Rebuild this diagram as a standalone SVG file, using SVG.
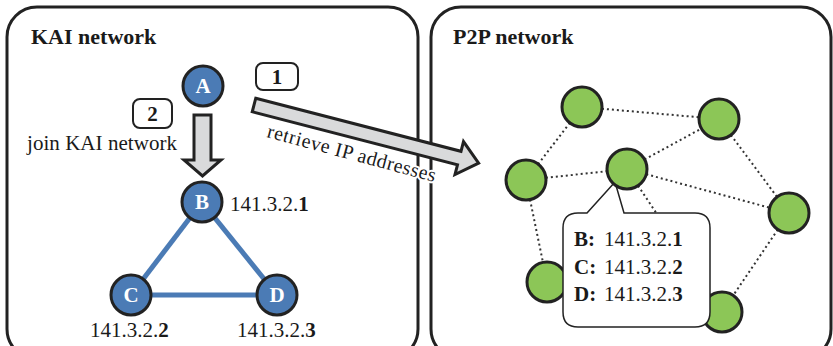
<svg xmlns="http://www.w3.org/2000/svg" width="833" height="346" viewBox="0 0 833 346" font-family="'Liberation Serif', 'Times New Roman', serif">
<style>
text{font-family:'Liberation Serif','Times New Roman',serif;fill:#1a1a1a}
.panel{fill:#fff;stroke:#222;stroke-width:3}
.title{font-size:22px;font-weight:bold}
.lbl{font-size:21px}
.b{font-weight:bold}
.bn{fill:#4b7bb5;stroke:#222;stroke-width:3}
.bt{fill:#fff;font-size:21px;font-weight:bold;text-anchor:middle}
.be{stroke:#4b7bb5;stroke-width:5;fill:none}
.gn{fill:#8cc657;stroke:#222;stroke-width:3}
.de{stroke:#333;stroke-width:2;stroke-dasharray:2 3;fill:none}
.arrow{fill:#d9dadb;stroke:#222;stroke-width:3;stroke-linejoin:miter}
.step{fill:#fff;stroke:#222;stroke-width:2}
.halo{stroke:#fff;stroke-width:4;paint-order:stroke;stroke-linejoin:round}
</style>
<g id="kai-panel">
<rect class="panel" x="7" y="7" width="411" height="352" rx="30"/>
<text class="title" x="31" y="44">KAI network</text>
</g>
<g id="p2p-panel">
<rect class="panel" x="431" y="7" width="400" height="352" rx="30"/>
<text class="title" x="453" y="44">P2P network</text>
</g>
<g id="connectors">
<line class="be" x1="202" y1="202" x2="131" y2="295"/>
<line class="be" x1="202" y1="202" x2="277" y2="295"/>
<line class="be" x1="131" y1="295" x2="277" y2="295"/>
<line class="de" x1="582" y1="107" x2="719" y2="119"/>
<line class="de" x1="582" y1="107" x2="526" y2="180"/>
<line class="de" x1="526" y1="180" x2="627" y2="169"/>
<line class="de" x1="627" y1="169" x2="719" y2="119"/>
<line class="de" x1="627" y1="169" x2="789" y2="213"/>
<line class="de" x1="719" y1="119" x2="789" y2="213"/>
<line class="de" x1="526" y1="180" x2="547" y2="282"/>
<line class="de" x1="789" y1="213" x2="722" y2="312"/>
<line class="de" x1="627" y1="169" x2="722" y2="312"/>
</g>
<g id="node-A"><circle class="bn" cx="203" cy="86" r="20"/><text class="bt" x="203" y="93">A</text></g>
<g id="node-B"><circle class="bn" cx="202" cy="202" r="20"/><text class="bt" x="202" y="209">B</text><text class="lbl" x="230" y="211">141.3.2.<tspan class="b">1</tspan></text></g>
<g id="node-C"><circle class="bn" cx="131" cy="295" r="20"/><text class="bt" x="131" y="302">C</text><text class="lbl" x="90" y="337">141.3.2.<tspan class="b">2</tspan></text></g>
<g id="node-D"><circle class="bn" cx="277" cy="295" r="20"/><text class="bt" x="277" y="302">D</text><text class="lbl" x="237" y="337">141.3.2.<tspan class="b">3</tspan></text></g>
<g id="step-2">
<polygon class="arrow" points="194,115 211,115 211,160 221,160 202.5,176 184,160 194,160"/>
<rect class="step" x="133" y="99" width="39" height="29" rx="7"/>
<text class="lbl b" x="152.5" y="121" text-anchor="middle">2</text>
<text class="lbl" x="27" y="150" textLength="150">join KAI network</text>
</g>
<g id="p2p-n6"><circle class="gn" cx="547" cy="282" r="20"/></g>
<g id="p2p-n7"><circle class="gn" cx="722" cy="312" r="20"/></g>
<g id="callout">
<path d="M587,213 L615,182 L624,213 L695,213 Q710,213 710,228 L710,312 Q710,327 695,327 L578,327 Q563,327 563,312 L563,228 Q563,213 578,213 Z" fill="#fff" stroke="#222" stroke-width="1.5"/>
<text class="lbl" x="574" y="246"><tspan class="b">B:</tspan><tspan x="604">141.3.2.<tspan class="b">1</tspan></tspan></text>
<text class="lbl" x="574" y="274"><tspan class="b">C:</tspan><tspan x="604">141.3.2.<tspan class="b">2</tspan></tspan></text>
<text class="lbl" x="574" y="301"><tspan class="b">D:</tspan><tspan x="604">141.3.2.<tspan class="b">3</tspan></tspan></text>
</g>
<g id="p2p-n1"><circle class="gn" cx="582" cy="107" r="20"/></g>
<g id="p2p-n2"><circle class="gn" cx="719" cy="119" r="20"/></g>
<g id="p2p-n3"><circle class="gn" cx="526" cy="180" r="20"/></g>
<g id="p2p-n4"><circle class="gn" cx="627" cy="169" r="20"/></g>
<g id="p2p-n5"><circle class="gn" cx="789" cy="213" r="20"/></g>
<g id="step-1">
<rect class="step" x="256" y="63" width="42" height="27" rx="7"/>
<text class="lbl b" x="277" y="84" text-anchor="middle">1</text>
<polygon class="arrow" transform="translate(254,105) rotate(14.5)" points="0,-7 212,-7 212,-17 232,0 212,17 212,7 0,7"/>
<text class="halo" style="font-size:20px" transform="translate(266,137) rotate(15)" x="0" y="0" textLength="174">retrieve IP addresses</text>
</g>
</svg>
